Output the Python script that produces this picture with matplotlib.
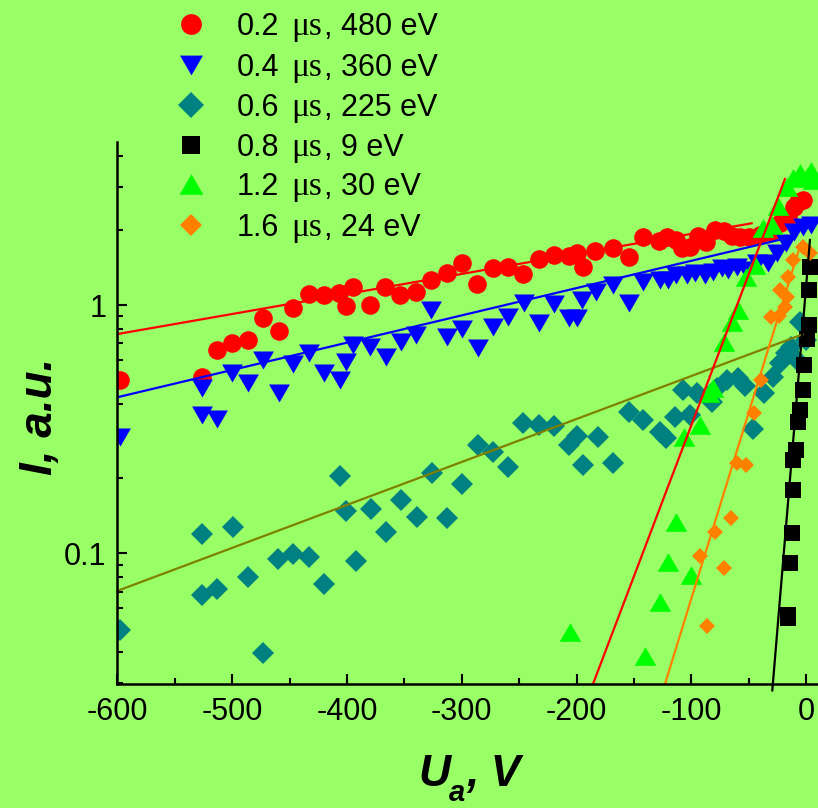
import numpy as np
import matplotlib
matplotlib.use("Agg")
import matplotlib.pyplot as plt
from matplotlib.lines import Line2D
from matplotlib.ticker import (FixedLocator, FixedFormatter, MultipleLocator,
                               LogLocator, NullFormatter, FuncFormatter)

plt.rcParams['font.family'] = ['Liberation Sans', 'DejaVu Sans']
plt.rcParams['axes.unicode_minus'] = False

# ---- measured probe characteristics: anode voltage (V) vs. current (a.u.) ----
u_02 = [-598, -526, -513, -500, -486, -473, -459, -447, -433, -420, -407, -401, -395,
        -380, -367, -354, -340, -327, -313, -300, -287, -273, -260, -247, -233, -220,
        -207, -200, -194, -184, -168, -154, -142, -128, -121, -113, -108, -101, -94,
        -87, -79, -72, -65, -58, -50, -40, -31, -23, -16, -11, -7, -2.5]
i_02 = [0.50, 0.514, 0.659, 0.705, 0.722, 0.889, 0.786, 0.97, 1.107, 1.10, 1.12, 0.99,
        1.185, 1.0, 1.185, 1.097, 1.13, 1.261, 1.35, 1.48, 1.215, 1.406, 1.427, 1.33,
        1.53, 1.59, 1.58, 1.62, 1.42, 1.655, 1.69, 1.557, 1.875, 1.816, 1.875, 1.83,
        1.69, 1.71, 1.90, 1.80, 2.0, 1.99, 1.90, 1.885, 1.885, 1.915, 1.975, 2.135,
        2.27, 2.49, 2.61, 2.65]

u_04 = [-598, -526, -526, -513, -500, -486, -473, -459, -447, -433, -420, -406, -401,
        -395, -380, -366, -353, -340, -327, -313, -300, -286, -273, -260, -246, -233,
        -220, -207, -200, -195, -183, -168, -154, -142, -127, -120, -113, -104, -97,
        -88, -81, -73, -68, -60, -52, -43, -33, -25, -18, -11, -3, 4]
i_04 = [0.294, 0.462, 0.36, 0.346, 0.53, 0.483, 0.60, 0.443, 0.578, 0.642, 0.533, 0.498,
        0.59, 0.69, 0.679, 0.615, 0.711, 0.757, 0.955, 0.745, 0.798, 0.669, 0.813,
        0.897, 1.016, 0.844, 1.006, 0.884, 0.884, 1.047, 1.13, 1.204, 1.019, 1.24,
        1.26, 1.26, 1.32, 1.32, 1.346, 1.32, 1.362, 1.41, 1.384, 1.427, 1.384, 1.477,
        1.477, 1.62, 1.778, 1.97, 2.07, 2.1]

u_06 = [-598, -526, -499, -526, -513, -486, -473, -460, -447, -433, -420, -406, -401,
        -392, -379, -366, -353, -339, -326, -313, -300, -286, -273, -260, -247, -233,
        -220, -207, -200, -194, -181, -168, -154, -142, -127, -122, -114, -107, -101,
        -95, -82, -78, -69, -59, -53, -46, -37, -29, -23, -18, -13, -8, -5, 0]
i_06 = [0.0492, 0.1193, 0.1277, 0.0677, 0.0714, 0.0803, 0.0396, 0.0943, 0.099, 0.0966,
        0.075, 0.2044, 0.1478, 0.0933, 0.150, 0.1213, 0.1637, 0.140, 0.2108, 0.138,
        0.1897, 0.2726, 0.256, 0.2229, 0.3354, 0.328, 0.325, 0.2726, 0.2964, 0.2263,
        0.2927, 0.230, 0.3714, 0.344, 0.308, 0.290, 0.3545, 0.4543, 0.36, 0.4405,
        0.4075, 0.4615, 0.498, 0.506, 0.4713, 0.318, 0.4405, 0.514, 0.582, 0.638,
        0.679, 0.60, 0.857, 0.722]

u_08 = [3.3, 2.4, 2.4, 0.7, -1.9, -2.8, -5.4, -7.1, -8.9, -11.5, -11.5, -12.4, -14.1,
        -15.9, -15.4]
i_08 = [1.42, 1.15, 0.831, 0.729, 0.573, 0.454, 0.377, 0.3375, 0.260, 0.237, 0.1795,
        0.1205, 0.0912, 0.0562, 0.0546]

u_12 = [-206, -140, -127, -120, -113, -100, -106, -92.5, -85, -81, -72, -65, -59, -52,
        -44.6, -37.4, -30, -24.6, -17, -11.5, -5.4, 0.7, 4.2, 5.9]
i_12 = [0.0482, 0.0384, 0.0636, 0.0923, 0.1337, 0.0815, 0.294, 0.328, 0.4405, 0.4615,
        0.709, 0.856, 0.955, 1.30, 1.45, 2.04, 2.10, 2.51, 2.99, 3.25, 3.40, 3.29,
        3.47, 3.19]

u_16 = [-86, -72, -92.5, -79.4, -65.5, -60.5, -52, -45.5, -39, -31, -24, -18.5, -17,
        -23, -16, -11.5, -3, 3.3]
i_16 = [0.0508, 0.0868, 0.0972, 0.1219, 0.138, 0.231, 0.2263, 0.3667, 0.498, 0.895,
        0.903, 0.984, 1.08, 1.15, 1.30, 1.52, 1.71, 1.62]

# exponential fits (straight lines on the log axis), given by their end points
fit_02_u, fit_02_i = [-600, -47.5], [0.764, 2.135]
fit_04_u, fit_04_i = [-600, -15], [0.425, 1.87]
fit_06_u, fit_06_i = [-600, -3], [0.0705, 0.762]
fit_08_u, fit_08_i = [-29.5, 3.3], [0.028, 1.83]
fit_12_u, fit_12_i = [-185.7, -18.5], [0.0297, 3.22]
fit_16_u, fit_16_i = [-123, -5], [0.0297, 1.75]

legend_labels = [("0.2", "480 eV"), ("0.4", "360 eV"), ("0.6", "225 eV"),
                 ("0.8", "9 eV"), ("1.2", "30 eV"), ("1.6", "24 eV")]

BG = "#99FF66"
TEAL = "#008080"
OLIVE = "#808000"
ORANGE = "#FF8000"
GREEN = "#00FF00"

TRI_DOWN = [(-1, 0.866), (1, 0.866), (0, -0.866)]
TRI_UP = [(-1, -0.866), (1, -0.866), (0, 0.866)]

W, H = 818, 808
fig = plt.figure(figsize=(W / 100, H / 100), dpi=100, facecolor=BG)
ax_l, ax_r, ax_t, ax_b = 117.4, 818, 142, 684
ax = fig.add_axes([ax_l / W, 1 - ax_b / H, (ax_r - ax_l) / W, (ax_b - ax_t) / H],
                  facecolor=BG)
ax.set_yscale('log')

series = [
    (u_02, i_02, dict(marker='o', color='red', ms=13.4)),
    (u_04, i_04, dict(marker=TRI_DOWN, color='blue', ms=15)),
    (u_06, i_06, dict(marker='D', color=TEAL, ms=11.2)),
    (u_08, i_08, dict(marker='s', color='black', ms=12)),
    (u_12, i_12, dict(marker=TRI_UP, color=GREEN, ms=15.5)),
    (u_16, i_16, dict(marker='D', color=ORANGE, ms=8.3)),
]
for u, i, st in series:
    ax.plot(u, i, linestyle='none', marker=st['marker'], ms=st['ms'],
            mfc=st['color'], mec=st['color'], mew=0, zorder=3)

fits = [
    (fit_02_u, fit_02_i, 'red', True),
    (fit_04_u, fit_04_i, 'blue', True),
    (fit_06_u, fit_06_i, OLIVE, True),
    (fit_12_u, fit_12_i, 'red', True),
    (fit_16_u, fit_16_i, ORANGE, True),
    (fit_08_u, fit_08_i, 'black', False),
]
for u, i, c, clip in fits:
    ax.plot(u, i, color=c, lw=1.6, zorder=4, clip_on=clip)

ax.set_xlim(-600, 10.3)
ax.set_ylim(0.0297, 4.54)

ax.xaxis.set_major_locator(MultipleLocator(100))
ax.xaxis.set_minor_locator(MultipleLocator(50))
ax.xaxis.set_major_formatter(FuncFormatter(lambda v, p: f"{int(round(v))}"))
ax.yaxis.set_major_locator(FixedLocator([0.1, 1]))
ax.yaxis.set_major_formatter(FixedFormatter(["0.1", "1"]))
ax.yaxis.set_minor_locator(LogLocator(base=10, subs=np.arange(2, 10)))
ax.yaxis.set_minor_formatter(NullFormatter())

for s in ('top', 'right'):
    ax.spines[s].set_visible(False)
for s in ('left', 'bottom'):
    ax.spines[s].set_linewidth(1.8)
    ax.spines[s].set_zorder(5)

ax.tick_params(which='both', direction='in', top=False, right=False, width=1.5,
               labelsize=22)
ax.tick_params(which='major', length=7.5)
ax.tick_params(which='minor', length=4)
ax.tick_params(axis='x', pad=9)
ax.tick_params(axis='y', pad=8)


def px(x, y):
    return x / W, 1 - y / H


# axis titles
lab = dict(fontsize=32, weight='bold', style='italic', color='black')
fig.text(*px(40, 416), "I, a.u.", rotation=90, ha='center', va='center',
         fontsize=33, weight='bold', style='italic')
fig.text(*px(418, 786), "U", ha='left', va='baseline', **lab)
fig.text(*px(449, 801), "a", ha='left', va='baseline', fontsize=21,
         weight='bold', style='italic')
fig.text(*px(466, 786), ", V", ha='left', va='baseline', **lab)

# legend
leg_rows = [24, 65, 105, 145, 184, 225]
leg_ms = [15, 16.5, 13.2, 13.2, 17.2, 10.7]
for (t, e), (u, i, st), y, ms in zip(legend_labels, series, leg_rows, leg_ms):
    fig.add_artist(Line2D([191 / W], [1 - y / H], transform=fig.transFigure,
                          marker=st['marker'], ms=ms, mfc=st['color'],
                          mec=st['color'], mew=0, linestyle='none'))
    fig.text(*px(237, y + 11), t, fontsize=22, ha='left', va='baseline')
    fig.text(*px(291, y + 11), "\u03bcs", fontsize=24, ha='left', va='baseline',
             family=['Liberation Serif', 'DejaVu Serif'])
    fig.text(*px(324, y + 11), ", " + e, fontsize=22, ha='left', va='baseline')

fig.savefig("out.png", dpi=100, facecolor=BG)
